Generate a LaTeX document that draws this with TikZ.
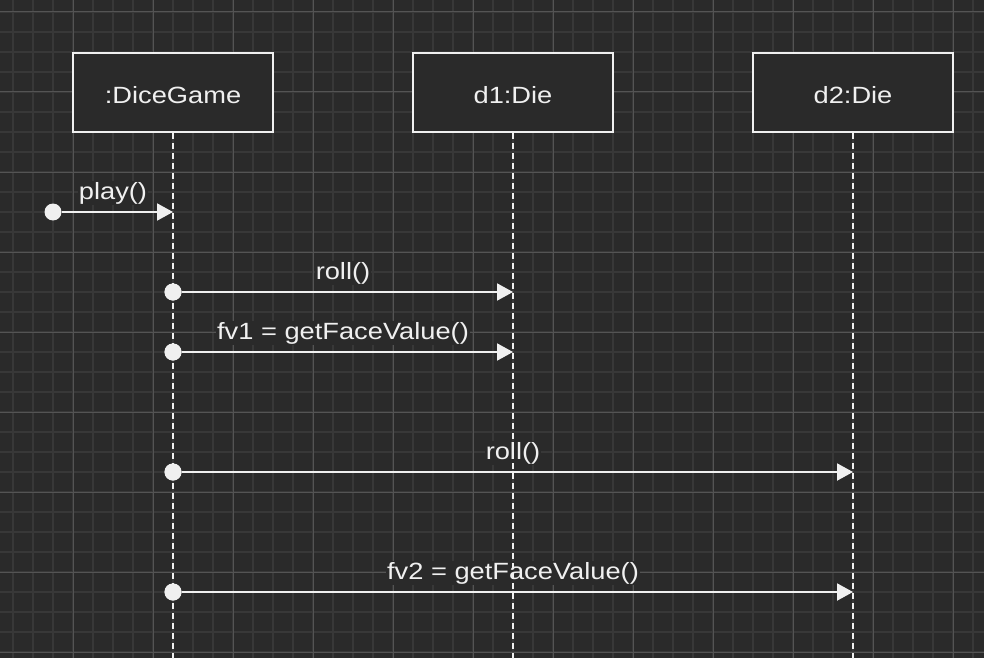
\documentclass[tikz,border=0pt]{standalone}
\usepackage{fontspec}
\setmainfont{Liberation Sans}[FakeStretch=1.16]
\usetikzlibrary{arrows.meta}
\definecolor{bg}{HTML}{2A2A2A}
\definecolor{minorg}{HTML}{383838}
\definecolor{majorg}{HTML}{545454}
\definecolor{fg}{HTML}{F0F0F0}
\begin{document}
\begin{tikzpicture}[x=1pt,y=-1pt,
  obj/.style={draw=fg,line width=2pt,fill=bg,minimum width=200pt,minimum height=79pt,inner sep=0pt},
  objtext/.style={text=fg,inner sep=0pt,yshift=-3pt,font=\fontsize{23.5pt}{26pt}\selectfont},
  life/.style={draw=fg,line width=2pt,dash pattern=on 6pt off 4pt},
  dot/.style={circle,fill=fg,draw=none,minimum size=17pt,inner sep=0pt},
  msg/.style={draw=fg,line width=2pt,-{Triangle[length=16pt,width=17pt]}},
  lbl/.style={fill=bg,text=fg,inner sep=1pt,font=\fontsize{23.5pt}{26pt}\selectfont}]
\fill[bg] (0,0) rectangle (984,658);
\useasboundingbox (0,0) rectangle (984,658);
% grid
\foreach \x in {13,33,...,983} \draw[minorg,line width=1.6pt] (\x,0) -- (\x,658);
\foreach \y in {12,32,...,652} \draw[minorg,line width=1.6pt] (0,\y) -- (984,\y);
\foreach \x in {73,153,...,953} \draw[majorg,line width=1pt] (\x,0) -- (\x,658);
\foreach \y in {12,92,...,652} \draw[majorg,line width=1pt] (0,\y) -- (984,\y);
% objects
\node[obj,label={[objtext]center::DiceGame}] (g) at (173,92.5) {};
\node[obj,label={[objtext]center:d1:Die}] (d1) at (513,92.5) {};
\node[obj,label={[objtext]center:d2:Die}] (d2) at (853,92.5) {};
% lifeline end points
\coordinate (ge) at (173,660);
\coordinate (d1e) at (513,660);
\coordinate (d2e) at (853,660);
% targets on lifelines
\coordinate (t0) at (173,212);
\coordinate (t1) at (513,292);
\coordinate (t2) at (513,352);
\coordinate (t3) at (853,472);
\coordinate (t4) at (853,592);
% dots
\node[dot] (s0) at (53,212) {};
\node[dot] (s1) at (173,292) {};
\node[dot] (s2) at (173,352) {};
\node[dot] (s3) at (173,472) {};
\node[dot] (s4) at (173,592) {};
% labels
\node[lbl] (l0) at (113,193) {play()};
\node[lbl] (l1) at (343,273) {roll()};
\node[lbl] (l2) at (343,333) {fv1 = getFaceValue()};
\node[lbl] (l3) at (513,453) {roll()};
\node[lbl] (l4) at (513,573) {fv2 = getFaceValue()};
% lifelines
\draw[life] (g.south) -- (ge);
\draw[life] (d1.south) -- (d1e);
\draw[life] (d2.south) -- (d2e);
% messages
\draw[msg] (s0) -- (t0);
\draw[msg] (s1) -- (t1);
\draw[msg] (s2) -- (t2);
\draw[msg] (s3) -- (t3);
\draw[msg] (s4) -- (t4);
\node[dot] at (s1) {};
\node[dot] at (s2) {};
\node[dot] at (s3) {};
\node[dot] at (s4) {};
\end{tikzpicture}
\end{document}
